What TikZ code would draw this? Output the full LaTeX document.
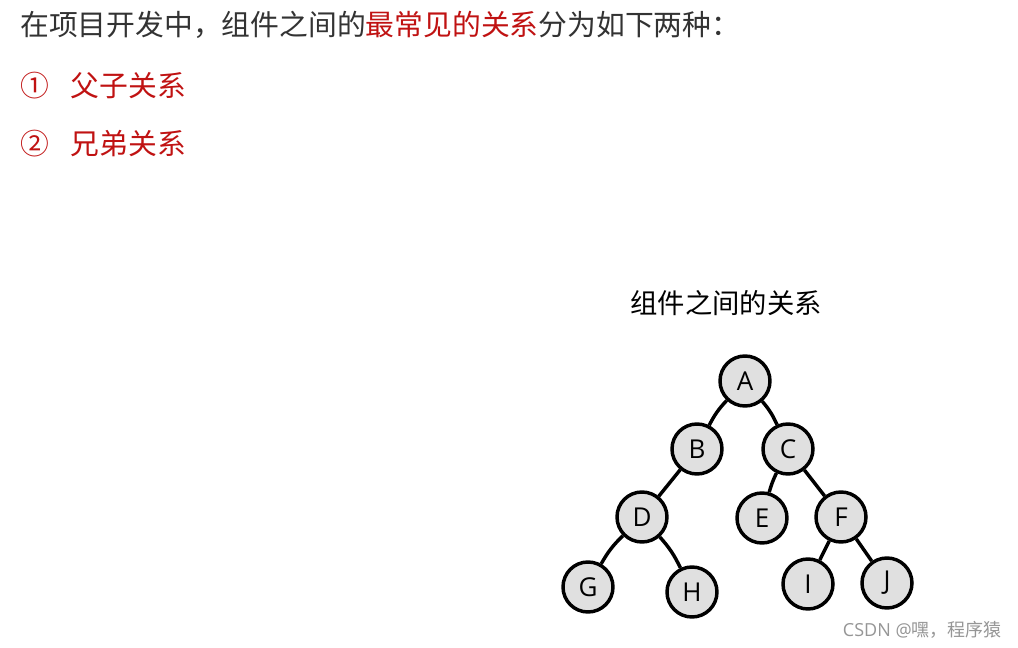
\documentclass[tikz,border=0pt]{standalone}
\usepackage{fontspec}
\setmainfont{Noto Sans CJK SC}
\newfontfamily\lat{Open Sans}
\definecolor{txtgray}{RGB}{51,51,51}
\definecolor{hired}{RGB}{192,18,18}
\definecolor{nodefill}{RGB}{224,224,224}
\definecolor{wmgray}{RGB}{150,150,150}
\begin{document}
\begin{tikzpicture}[x=0.75pt,y=-0.75pt,
  tnode/.style={circle,draw=black,line width=2.6pt,fill=nodefill,minimum size=37.5pt,inner sep=0pt,font=\lat\fontsize{19.5}{22}\selectfont},
  tedge/.style={line width=2.6pt,draw=black},
  linetext/.style={anchor=west,inner sep=0pt,font=\fontsize{21.6}{25}\selectfont}]
\useasboundingbox[fill=white] (0,0) rectangle (1018,648);
\node[linetext,text=txtgray] (l1) at (20,25) {在项目开发中，组件之间的\textcolor{hired}{最常见的关系}分为如下两种：};
\node[linetext,text=hired] (l2) at (20,86) {①\hspace{0.75em}父子关系};
\node[linetext,text=hired] (l3) at (20,144) {②\hspace{0.75em}兄弟关系};
\node[inner sep=0pt,font=\fontsize{20.5}{24}\selectfont,text=black] (title) at (726,303) {组件之间的关系};
\node[tnode] (A) at (745,381) {A};
\node[tnode] (B) at (697,449) {B};
\node[tnode] (C) at (788,449) {C};
\node[tnode] (D) at (642,517) {D};
\node[tnode] (E) at (762,518) {E};
\node[tnode] (F) at (841,517) {F};
\node[tnode] (G) at (588,587) {G};
\node[tnode] (H) at (692,592) {H};
\node[tnode] (I) at (808,584) {I};
\node[tnode] (J) at (887,583) {J};
\draw[tedge] (A) to[bend right=8] (B);
\draw[tedge] (A) to[bend left=8] (C);
\draw[tedge] (B) -- (D);
\draw[tedge] (C) to[bend right=5] (E);
\draw[tedge] (C) -- (F);
\draw[tedge] (D) to[bend right=8] (G);
\draw[tedge] (D) to[bend left=8] (H);
\draw[tedge] (F) -- (I);
\draw[tedge] (F) -- (J);
\node[anchor=east,inner sep=0pt,text=wmgray,font=\fontsize{13.5}{16}\selectfont] (wm) at (1002,630) {{\lat CSDN @}嘿，程序猿};
\end{tikzpicture}
\end{document}
